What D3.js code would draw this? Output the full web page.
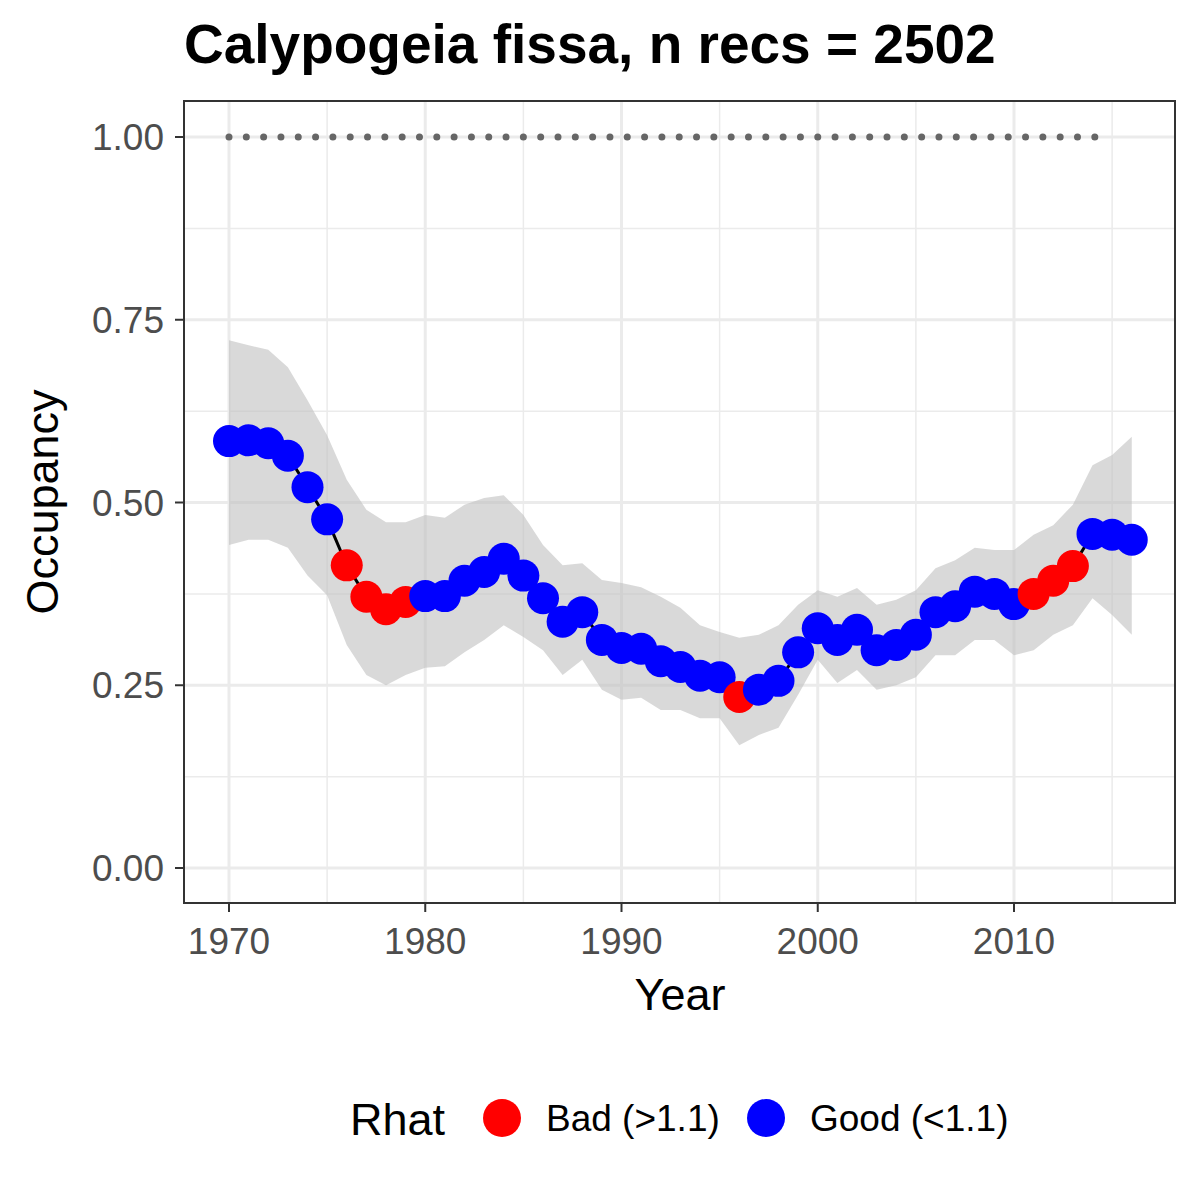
<!DOCTYPE html>
<html><head><meta charset="utf-8">
<script src="https://cdn.jsdelivr.net/npm/d3@7"></script>
<style>body{margin:0;background:#fff}text{font-family:"Liberation Sans",Arial,sans-serif}</style>
</head><body><svg id="c" width="1200" height="1200"></svg>
<script>
const years = d3.range(1970, 2017);
const occupancy = [0.584,0.585,0.581,0.564,0.521,0.477,0.414,0.371,0.354,0.364,0.372,0.372,0.393,0.405,0.423,0.400,0.369,0.337,0.350,0.312,0.301,0.300,0.283,0.275,0.263,0.261,0.234,0.244,0.256,0.295,0.328,0.312,0.326,0.298,0.305,0.319,0.350,0.358,0.378,0.375,0.361,0.375,0.393,0.413,0.457,0.456,0.449];
const upper = [0.722,0.715,0.709,0.685,0.640,0.592,0.531,0.490,0.473,0.473,0.483,0.479,0.497,0.506,0.510,0.483,0.442,0.414,0.417,0.394,0.390,0.384,0.371,0.356,0.332,0.323,0.315,0.319,0.332,0.360,0.380,0.371,0.383,0.360,0.367,0.380,0.410,0.421,0.438,0.435,0.435,0.456,0.469,0.497,0.551,0.565,0.590];
const lower = [0.442,0.449,0.449,0.438,0.400,0.373,0.305,0.264,0.250,0.264,0.274,0.276,0.295,0.312,0.332,0.316,0.298,0.264,0.285,0.244,0.230,0.233,0.216,0.216,0.205,0.205,0.168,0.182,0.192,0.237,0.285,0.253,0.271,0.244,0.250,0.261,0.291,0.291,0.312,0.312,0.291,0.298,0.319,0.332,0.369,0.346,0.319];
const rhat = ["G","G","G","G","G","G","B","B","B","B","G","G","G","G","G","G","G","G","G","G","G","G","G","G","G","G","B","G","G","G","G","G","G","G","G","G","G","G","G","G","G","B","B","B","G","G","G"];
const xTicks = [1970,1980,1990,2000,2010];
const yTicks = [0,0.25,0.5,0.75,1];
const data = years.map((y,i)=>({y, o:occupancy[i], u:upper[i], l:lower[i], r:rhat[i]}));

const svg = d3.select("#c");
const L=184,R=1175,T=101,B=903;
const x = d3.scaleLinear().domain([1970,2010]).range([229,1014]);
const y = d3.scaleLinear().domain([0,1]).range([868,137]);

svg.append("rect").attr("x",L).attr("y",T).attr("width",R-L).attr("height",B-T).attr("fill","#fff");
const g = svg.append("g");
[1975,1985,1995,2005,2015].forEach(v=>g.append("line").attr("x1",x(v)).attr("x2",x(v)).attr("y1",T).attr("y2",B).attr("stroke","#ebebeb").attr("stroke-width",1.5));
[0.125,0.375,0.625,0.875].forEach(v=>g.append("line").attr("y1",y(v)).attr("y2",y(v)).attr("x1",L).attr("x2",R).attr("stroke","#ebebeb").attr("stroke-width",1.5));
xTicks.forEach(v=>g.append("line").attr("x1",x(v)).attr("x2",x(v)).attr("y1",T).attr("y2",B).attr("stroke","#ebebeb").attr("stroke-width",3));
yTicks.forEach(v=>g.append("line").attr("y1",y(v)).attr("y2",y(v)).attr("x1",L).attr("x2",R).attr("stroke","#ebebeb").attr("stroke-width",3));

g.append("path").datum(data).attr("fill","#bfbfbf").attr("opacity",0.6)
 .attr("d",d3.area().x(d=>x(d.y)).y0(d=>y(d.l)).y1(d=>y(d.u)));
const dl = x(2015)-x(1970);
g.append("path").datum(years.filter(v=>v<=2015)).attr("fill","none").attr("stroke","#666").attr("stroke-width",7)
 .attr("stroke-linecap","round").attr("stroke-dasharray",`0 ${dl/51}`)
 .attr("d",d3.line().x(d=>x(d)).y(()=>y(1)));
g.append("path").datum(data).attr("fill","none").attr("stroke","#000").attr("stroke-width",3)
 .attr("d",d3.line().x(d=>x(d.y)).y(d=>y(d.o)));
g.selectAll("circle.p").data(data).join("circle").attr("cx",d=>x(d.y)).attr("cy",d=>y(d.o)).attr("r",16)
 .attr("fill",d=>d.r==="B"?"#ff0000":"#0000ff");

svg.append("rect").attr("x",L).attr("y",T).attr("width",R-L).attr("height",B-T).attr("fill","none").attr("stroke","#333").attr("stroke-width",2);
xTicks.forEach(v=>{
  svg.append("line").attr("x1",x(v)).attr("x2",x(v)).attr("y1",B).attr("y2",B+9).attr("stroke","#333").attr("stroke-width",2);
  svg.append("text").attr("x",x(v)).attr("y",B+51).attr("text-anchor","middle").attr("font-size",37).attr("fill","#4d4d4d").text(v);
});
yTicks.forEach(v=>{
  svg.append("line").attr("x1",L-9).attr("x2",L).attr("y1",y(v)).attr("y2",y(v)).attr("stroke","#333").attr("stroke-width",2);
  svg.append("text").attr("x",L-20).attr("y",y(v)+13).attr("text-anchor","end").attr("font-size",37).attr("fill","#4d4d4d").text(v.toFixed(2));
});
svg.append("text").attr("x",680).attr("y",1010).attr("text-anchor","middle").attr("font-size",45).text("Year");
svg.append("text").attr("transform",`translate(58,${(T+B)/2}) rotate(-90)`).attr("text-anchor","middle").attr("font-size",45).text("Occupancy");
svg.append("text").attr("x",184).attr("y",63).attr("font-size",55).attr("font-weight","bold").text("Calypogeia fissa, n recs = 2502");

svg.append("text").attr("x",350).attr("y",1135).attr("font-size",45).text("Rhat");
svg.append("circle").attr("cx",502).attr("cy",1118).attr("r",19).attr("fill","#ff0000");
svg.append("text").attr("x",546).attr("y",1131).attr("font-size",37).text("Bad (>1.1)");
svg.append("circle").attr("cx",766).attr("cy",1118).attr("r",19).attr("fill","#0000ff");
svg.append("text").attr("x",810).attr("y",1131).attr("font-size",37).text("Good (<1.1)");
</script></body></html>
